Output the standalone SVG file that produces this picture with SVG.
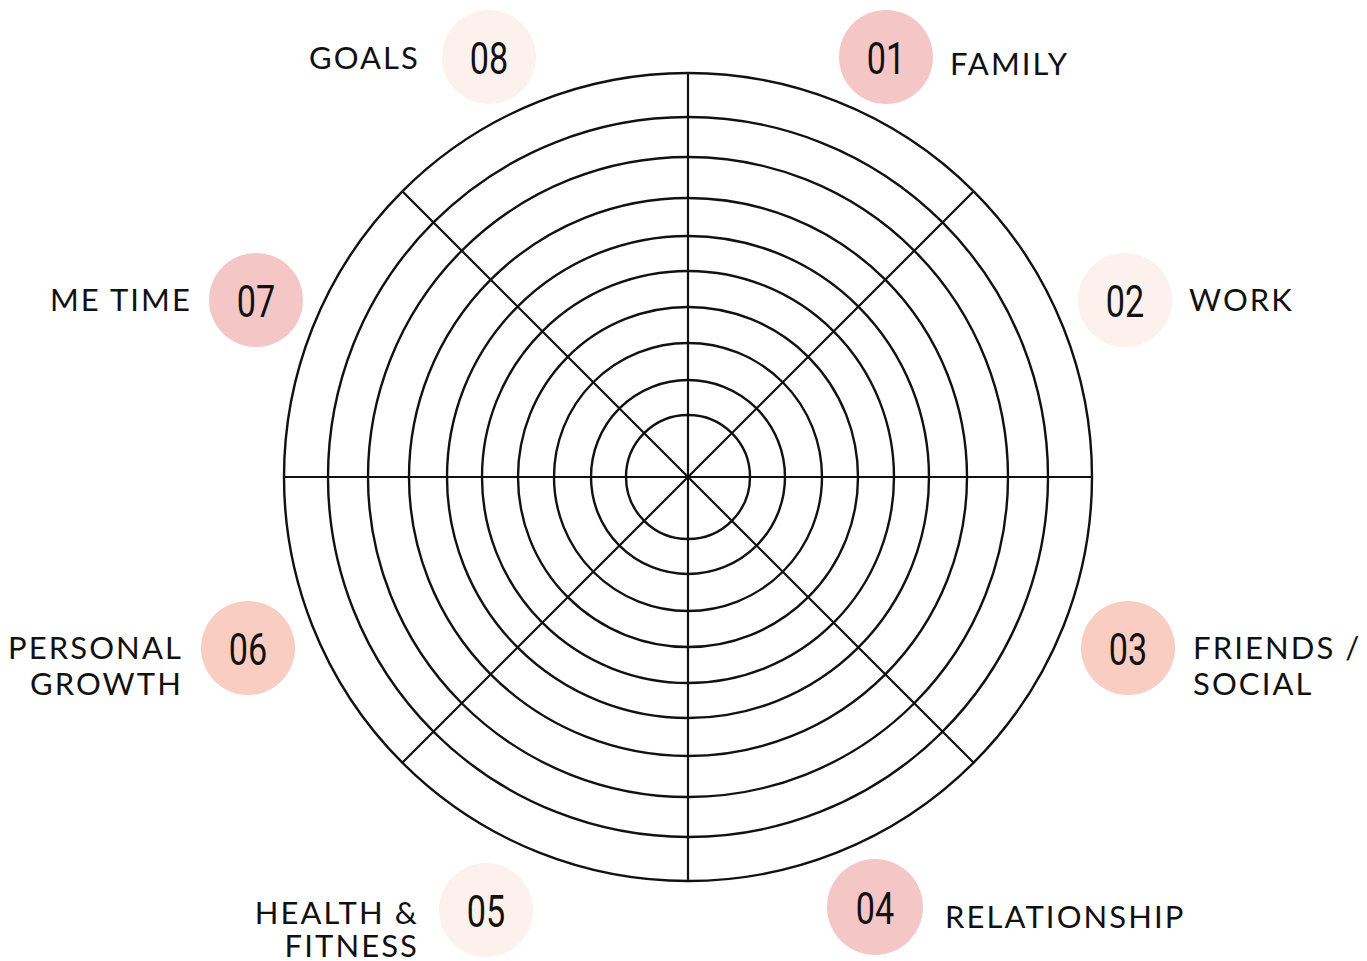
<svg xmlns="http://www.w3.org/2000/svg" width="1367" height="961" viewBox="0 0 1367 961">
  <style>
    .ring { fill: none; stroke: #111; stroke-width: 2.4; }
    .spoke { stroke: #111; stroke-width: 2.2; }
    .pale { fill: #fcf1ec; }
    .pink { fill: #f4c6c6; }
    .peach { fill: #f9cdc2; }
    .num { font-family: Roboto, "DejaVu Sans", sans-serif; font-size: 45px; fill: #111; text-anchor: middle; }
    .lbl { font-family: Lato, "Liberation Sans", sans-serif; font-size: 31px; fill: #111; letter-spacing: 2.1px; }
    .end { text-anchor: end; }
  </style>
  <rect width="1367" height="961" fill="#fff"/>

  <!-- wheel rings -->
  <g id="wheel" transform="translate(688,477)">
    <circle class="ring" r="404"/>
    <circle class="ring" r="360"/>
    <circle class="ring" r="320"/>
    <circle class="ring" r="279"/>
    <circle class="ring" r="241"/>
    <circle class="ring" r="206"/>
    <circle class="ring" r="170"/>
    <circle class="ring" r="134"/>
    <circle class="ring" r="97"/>
    <circle class="ring" r="62"/>
  </g>

  <!-- spokes dividing the eight segments -->
  <g id="connectors" transform="translate(688,477)">
    <line class="spoke" x1="0" y1="-404" x2="0" y2="404"/>
    <line class="spoke" x1="-404" y1="0" x2="404" y2="0"/>
    <line class="spoke" x1="-285.7" y1="-285.7" x2="285.7" y2="285.7"/>
    <line class="spoke" x1="285.7" y1="-285.7" x2="-285.7" y2="285.7"/>
  </g>

  <g id="n01">
    <circle class="pink" cx="886" cy="57" r="47"/>
    <text class="num" transform="translate(886,74) scale(0.76,1)">01</text>
    <text class="lbl" x="950" y="75">FAMILY</text>
  </g>
  <g id="n02">
    <circle class="pale" cx="1125" cy="300" r="47"/>
    <text class="num" transform="translate(1125,317) scale(0.76,1)">02</text>
    <text class="lbl" x="1189" y="311">WORK</text>
  </g>
  <g id="n03">
    <circle class="peach" cx="1128" cy="648" r="47"/>
    <text class="num" transform="translate(1128,665) scale(0.76,1)">03</text>
    <text class="lbl" x="1193" y="659">FRIENDS /</text>
    <text class="lbl" x="1193" y="695">SOCIAL</text>
  </g>
  <g id="n04">
    <circle class="pink" cx="875" cy="907" r="48"/>
    <text class="num" transform="translate(875,924) scale(0.76,1)">04</text>
    <text class="lbl" x="945" y="928">RELATIONSHIP</text>
  </g>
  <g id="n05">
    <circle class="pale" cx="486" cy="910" r="47"/>
    <text class="num" transform="translate(486,927) scale(0.76,1)">05</text>
    <text class="lbl end" x="419" y="924">HEALTH &amp;</text>
    <text class="lbl end" x="419" y="957">FITNESS</text>
  </g>
  <g id="n06">
    <circle class="peach" cx="248" cy="648" r="47"/>
    <text class="num" transform="translate(248,665) scale(0.76,1)">06</text>
    <text class="lbl end" x="183" y="659">PERSONAL</text>
    <text class="lbl end" x="183" y="695">GROWTH</text>
  </g>
  <g id="n07">
    <circle class="pink" cx="256" cy="300" r="47"/>
    <text class="num" transform="translate(256,317) scale(0.76,1)">07</text>
    <text class="lbl end" x="192" y="311">ME TIME</text>
  </g>
  <g id="n08">
    <circle class="pale" cx="489" cy="57" r="47"/>
    <text class="num" transform="translate(489,74) scale(0.76,1)">08</text>
    <text class="lbl end" x="420" y="69">GOALS</text>
  </g>
</svg>
